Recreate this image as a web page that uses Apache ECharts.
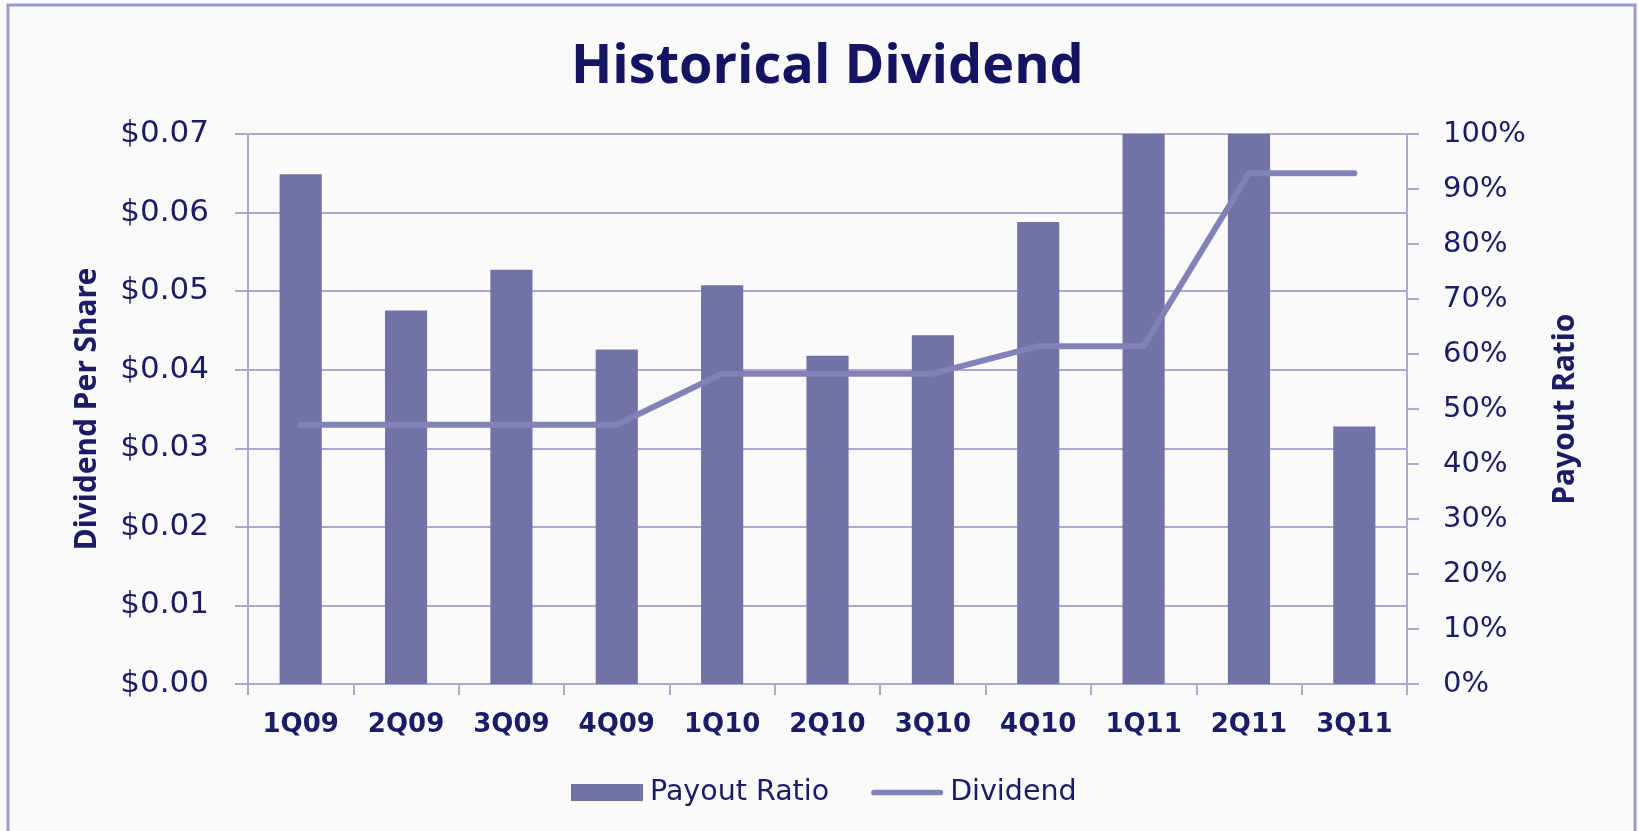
<!DOCTYPE html>
<html>
<head>
<meta charset="utf-8">
<script src="https://cdn.jsdelivr.net/npm/echarts@6/dist/echarts.min.js"></script>
<style>
html,body{margin:0;padding:0;background:#fafafa;}
#chart{width:1638px;height:831px;}
</style>
</head>
<body>
<div id="chart"></div>
<script>
// ---- data ----
const categories = ['1Q09','2Q09','3Q09','4Q09','1Q10','2Q10','3Q10','4Q10','1Q11','2Q11','3Q11'];
const payoutRatio = [92.7, 67.9, 75.3, 60.8, 72.5, 59.7, 63.4, 84.0, 100, 100, 46.8];
const dividend = [0.033, 0.033, 0.033, 0.033, 0.0395, 0.0395, 0.0395, 0.043, 0.043, 0.065, 0.065];
const leftTicks = {min: 0, max: 0.07, interval: 0.01};
const rightTicks = {min: 0, max: 100, interval: 10};

const navy = '#1b1b66';
const gridColor = '#aaaad2';
const barColor = '#7272a6';
const lineColor = '#8282b8';

const chart = echarts.init(document.getElementById('chart'), null, {renderer: 'canvas'});
chart.setOption({
  animation: false,
  backgroundColor: '#fafafa',
  graphic: [{
    type: 'rect',
    z: -10,
    shape: {x: 8, y: 5, width: 1627, height: 900},
    style: {fill: '#fafafa', stroke: '#9a9acb', lineWidth: 3}
  }],
  title: {
    text: 'Historical Dividend',
    left: 566,
    top: 36,
    textStyle: {fontFamily: 'Open Sans', fontWeight: 'bold', fontSize: 54, color: '#141462'}
  },
  legend: {
    left: 566,
    top: 773,
    itemWidth: 72,
    itemHeight: 17,
    itemGap: 42,
    textStyle: {fontFamily: 'DejaVu Sans', fontSize: 28.5, color: navy, padding: [0, 0, 0, 2]},
    data: [
      {name: 'Payout Ratio', icon: 'rect'},
      {name: 'Dividend', icon: 'path://M3,0 L73,0 A3,3 0 0 1 73,6 L3,6 A3,3 0 0 1 3,0 Z'}
    ]
  },
  grid: {left: 248, right: 231, top: 134, bottom: 147},
  xAxis: {
    type: 'category',
    data: categories,
    boundaryGap: true,
    axisLine: {lineStyle: {color: gridColor, width: 2}},
    axisTick: {show: true, length: 11, lineStyle: {color: gridColor, width: 2}},
    axisLabel: {margin: 28, fontFamily: 'DejaVu Sans', fontWeight: 'bold', fontSize: 26, color: navy}
  },
  yAxis: [{
    type: 'value',
    min: leftTicks.min, max: leftTicks.max, interval: leftTicks.interval,
    name: 'Dividend Per Share',
    nameLocation: 'middle',
    nameRotate: 90,
    nameGap: 146,
    nameTextStyle: {fontFamily: 'Noto Sans', fontWeight: 'bold', fontSize: 30, color: navy},
    axisLine: {show: true, lineStyle: {color: gridColor, width: 2}},
    axisTick: {show: true, length: 13, lineStyle: {color: gridColor, width: 2}},
    splitLine: {show: true, lineStyle: {color: gridColor, width: 2}},
    axisLabel: {
      margin: 39, fontFamily: 'DejaVu Sans', fontSize: 31, color: navy,
      formatter: v => '$' + v.toFixed(2)
    }
  }, {
    type: 'value',
    position: 'right',
    min: rightTicks.min, max: rightTicks.max, interval: rightTicks.interval,
    name: 'Payout Ratio',
    nameLocation: 'middle',
    nameRotate: 90,
    nameGap: 143,
    nameTextStyle: {fontFamily: 'Noto Sans', fontWeight: 'bold', fontSize: 30, color: navy},
    axisLine: {show: true, lineStyle: {color: gridColor, width: 2}},
    axisTick: {show: true, length: 12, lineStyle: {color: gridColor, width: 2}},
    splitLine: {show: false},
    axisLabel: {
      margin: 36, fontFamily: 'DejaVu Sans', fontSize: 29, color: navy,
      formatter: v => Math.round(v) + '%'
    }
  }],
  series: [{
    name: 'Payout Ratio',
    type: 'bar',
    yAxisIndex: 1,
    data: payoutRatio,
    barWidth: '40%',
    itemStyle: {color: barColor}
  }, {
    name: 'Dividend',
    type: 'line',
    yAxisIndex: 0,
    data: dividend,
    symbol: 'none',
    lineStyle: {color: lineColor, width: 6, cap: 'round', join: 'round'},
    itemStyle: {color: lineColor}
  }]
});
</script>
</body>
</html>
